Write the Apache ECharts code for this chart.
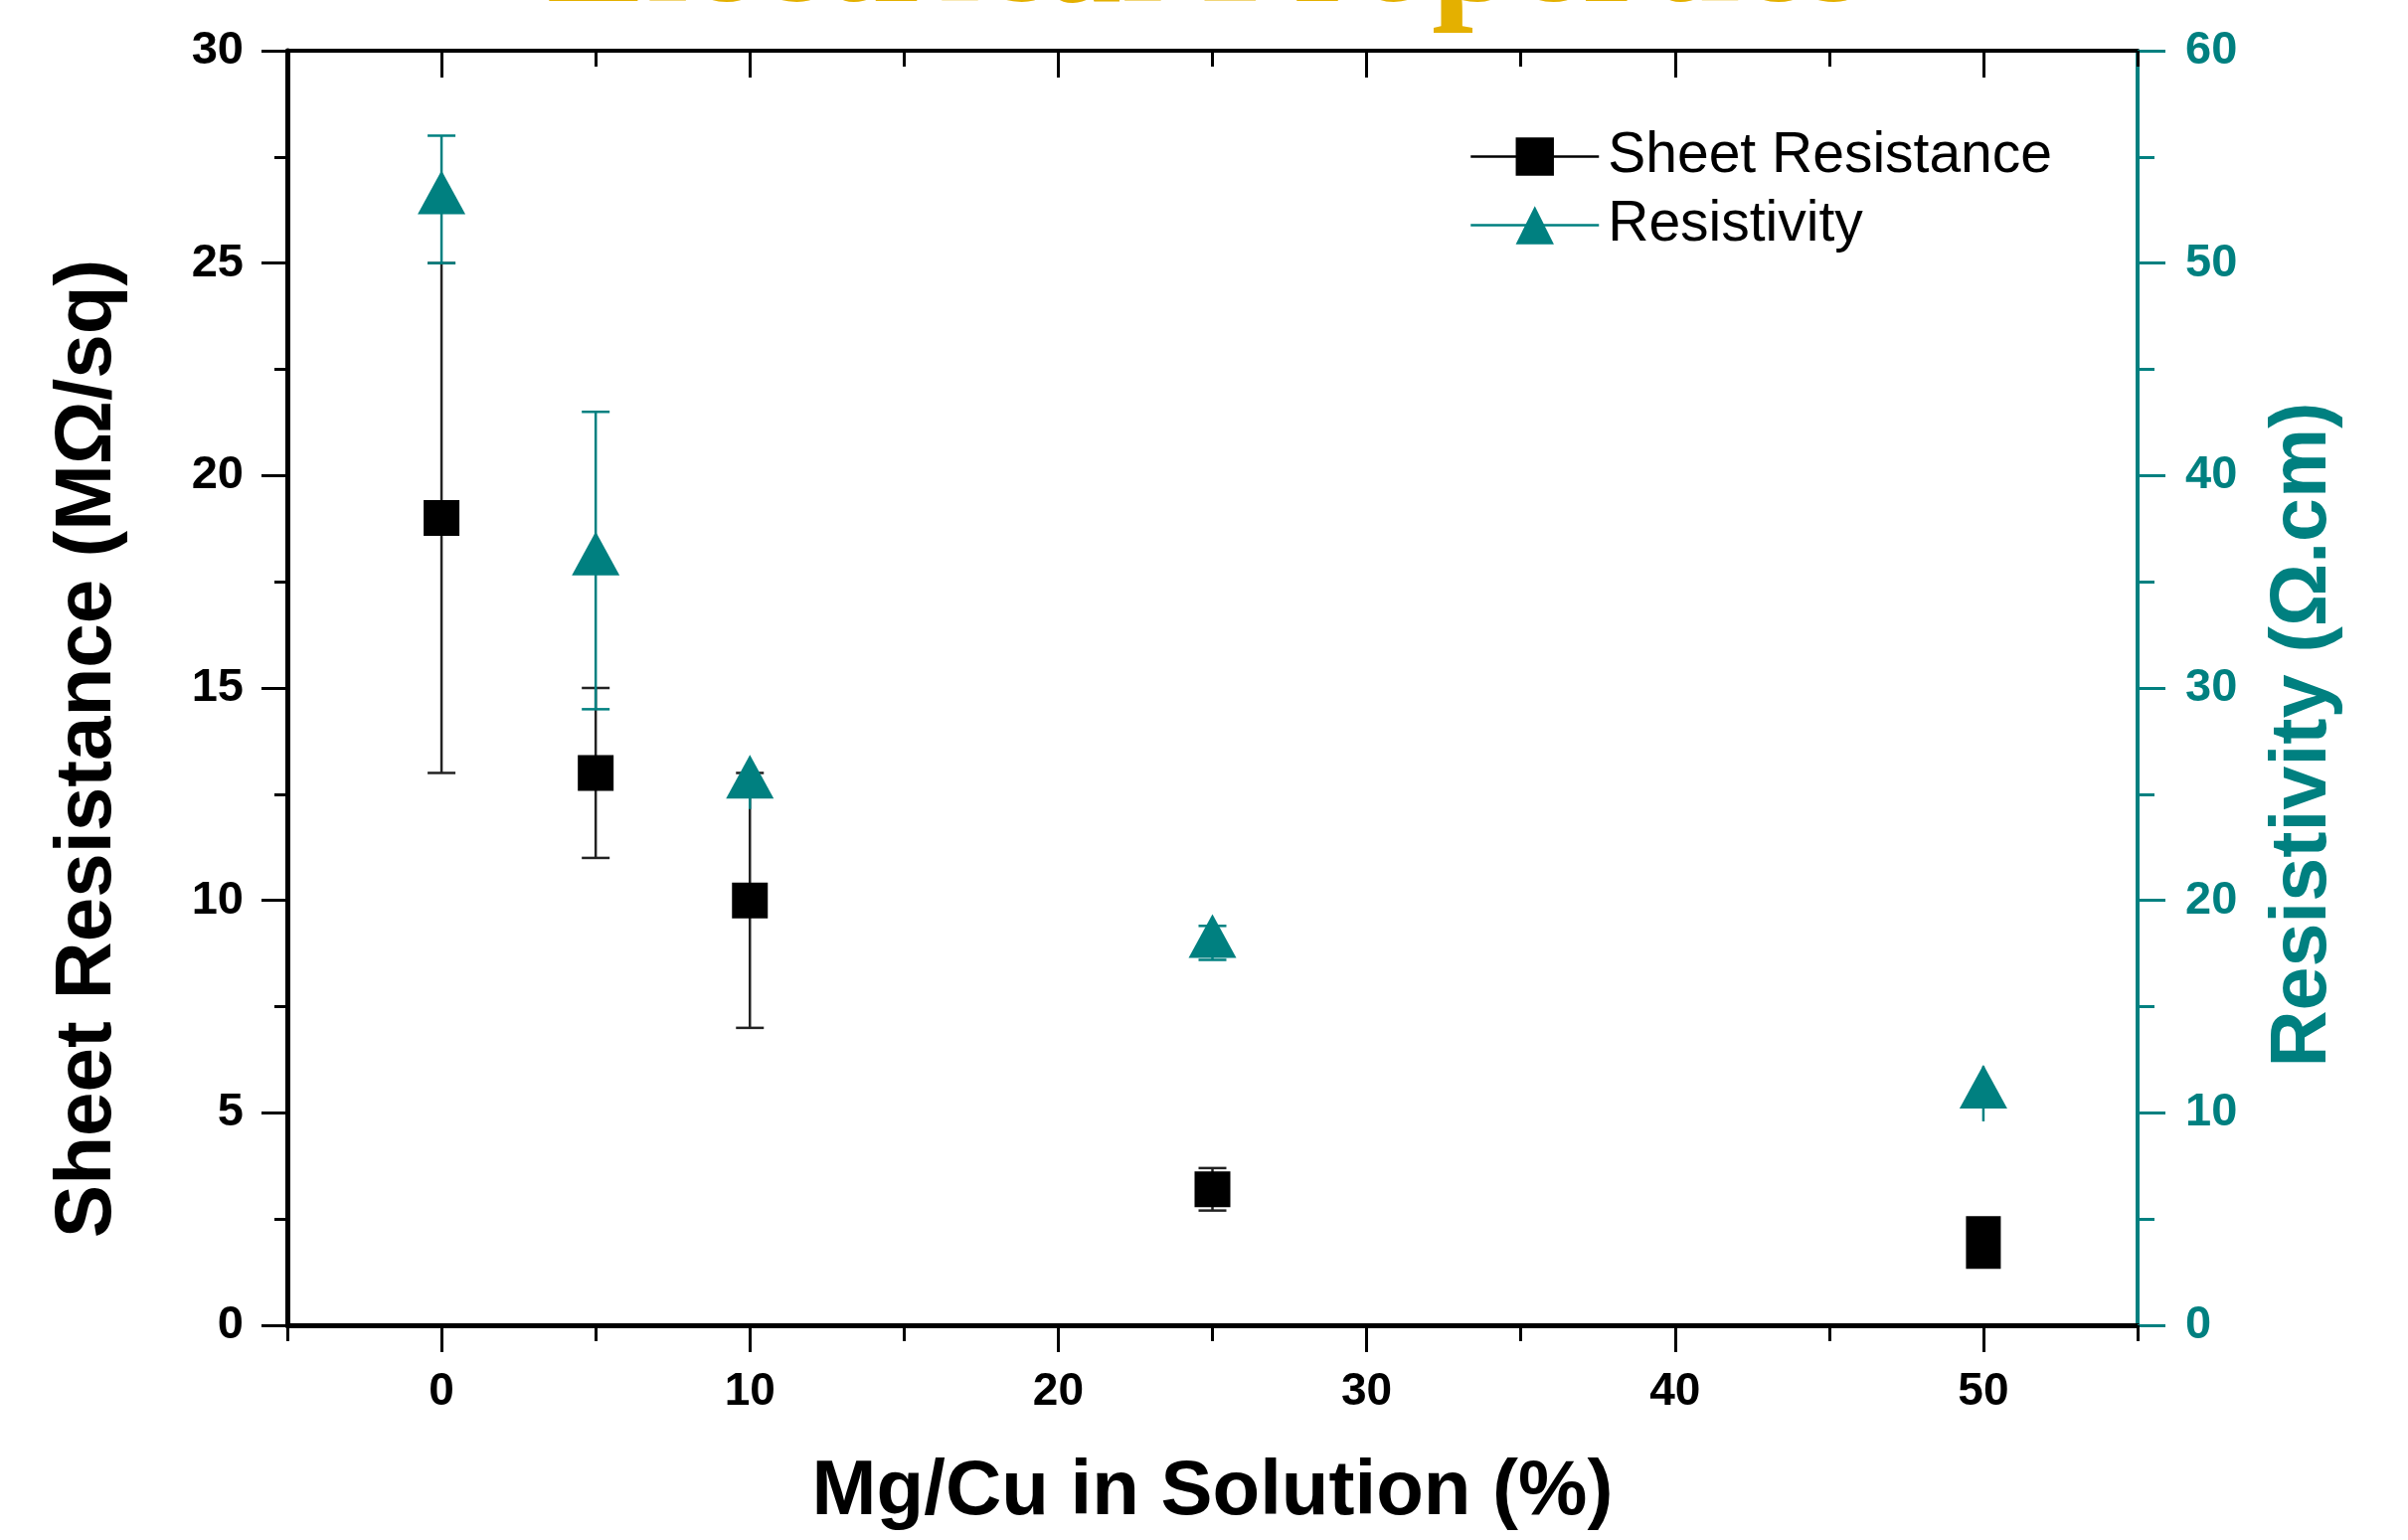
<!DOCTYPE html>
<html><head><meta charset="utf-8">
<script src="https://cdn.jsdelivr.net/npm/echarts@6/dist/echarts.min.js"></script>
<style>html,body{margin:0;padding:0;background:#fff}#c{width:2422px;height:1549px}</style>
</head><body><div id="c"></div>
<script>
const titleText = 'Electrical Properties';
const xName = 'Mg/Cu in Solution (%)';
const yLeftName = 'Sheet Resistance (MΩ/sq)';
const yRightName = 'Resistivity (Ω.cm)';
const seriesNames = ['Sheet Resistance', 'Resistivity'];

const xValues = [0, 5, 10, 25, 50];
const sheetResistance = [19, 13, 10, 3.2, 1.95];
const sheetError = [6, 2, 3, 0.5, 0];
const resistivity = [53, 36, 25.5, 18, 10.9];
const resistivityError = [3, 7, 1.2, 0.8, 1.3];
const resistivityCap = [true, true, false, true, false];

const xMajorTicks = [0, 10, 20, 30, 40, 50];
const xMinorTicks = [-5, 5, 15, 25, 35, 45, 55];

const TEAL = '#008080';
const FONT = 'Liberation Sans';

function errorBars(color, caps) {
  return function (params, api) {
    const x = api.value(0), lo = api.value(1), hi = api.value(2);
    const a = api.coord([x, lo]), b = api.coord([x, hi]);
    const style = { stroke: color, lineWidth: 2.5 };
    const half = 14;
    const kids = [{ type: 'line', shape: { x1: a[0], y1: a[1], x2: b[0], y2: b[1] }, style }];
    if (!caps || caps[params.dataIndex]) {
      kids.push({ type: 'line', shape: { x1: a[0] - half, y1: a[1], x2: a[0] + half, y2: a[1] }, style });
      kids.push({ type: 'line', shape: { x1: b[0] - half, y1: b[1], x2: b[0] + half, y2: b[1] }, style });
    }
    return { type: 'group', children: kids };
  };
}

function baseX(pos, ticks, len, showLine, lineW) {
  return {
    type: 'value', position: pos, min: -5, max: 55,
    axisLine: { show: showLine, onZero: false, lineStyle: { color: '#000', width: lineW } },
    axisTick: { show: true, customValues: ticks, length: len, inside: pos === 'top', lineStyle: { color: '#000', width: 3 } },
    axisLabel: { show: false },
    splitLine: { show: false }
  };
}

const chart = echarts.init(document.getElementById('c'), null, { renderer: 'canvas' });
const xMain = baseX('bottom', xMajorTicks, 27, true, 5);
xMain.axisLabel = { show: true, customValues: xMajorTicks, margin: 44, fontSize: 46, fontWeight: 'bold', fontFamily: FONT, color: '#000' };
xMain.name = xName;
xMain.nameLocation = 'middle';
xMain.nameGap = 129;
xMain.nameTextStyle = { fontSize: 78, fontWeight: 'bold', fontFamily: FONT, color: '#000' };

chart.setOption({
  animation: false,
  backgroundColor: '#fff',
  grid: { left: 289, right: 272, top: 51, bottom: 216, containLabel: false },
  graphic: [{
    type: 'text', x: 1213, y: -38, z: 100,
    style: { text: titleText, fontSize: 151, fontWeight: 'bold', fontFamily: 'Liberation Serif', fill: '#E4B000', align: 'center', verticalAlign: 'middle' }
  }],
  legend: {
    orient: 'vertical', left: 1473, top: 124, itemWidth: 129, itemHeight: 48, itemGap: 12,
    data: seriesNames,
    textStyle: { fontSize: 57, fontFamily: FONT, color: '#000', padding: [0, 0, 0, 4] },
    lineStyle: { opacity: 1, width: 2.5 }
  },
  xAxis: [
    xMain,
    baseX('bottom', xMinorTicks, 16, false, 5),
    baseX('top', xMajorTicks, 27, true, 4),
    baseX('top', xMinorTicks, 16, false, 4)
  ],
  yAxis: [{
    type: 'value', position: 'left', min: 0, max: 30, interval: 5,
    axisLine: { show: true, onZero: false, lineStyle: { color: '#000', width: 5 } },
    axisTick: { show: true, length: 26, lineStyle: { color: '#000', width: 3 } },
    minorTick: { show: true, splitNumber: 2, length: 13, lineStyle: { color: '#000', width: 3 } },
    axisLabel: { margin: 44, fontSize: 47, fontWeight: 'bold', fontFamily: FONT, color: '#000' },
    splitLine: { show: false },
    name: yLeftName, nameLocation: 'middle', nameRotate: 90, nameGap: 160,
    nameTextStyle: { fontSize: 80, fontWeight: 'bold', fontFamily: FONT, color: '#000', padding: [0, 122, 0, 0] }
  }, {
    type: 'value', position: 'right', min: 0, max: 60, interval: 10,
    axisLine: { show: true, onZero: false, lineStyle: { color: TEAL, width: 4 } },
    axisTick: { show: true, length: 28, lineStyle: { color: TEAL, width: 3 } },
    minorTick: { show: true, splitNumber: 2, length: 17, lineStyle: { color: TEAL, width: 3 } },
    axisLabel: { margin: 48, fontSize: 47, fontWeight: 'bold', fontFamily: FONT, color: TEAL },
    splitLine: { show: false },
    name: yRightName, nameLocation: 'middle', nameRotate: 90, nameGap: 128,
    nameTextStyle: { fontSize: 79, fontWeight: 'bold', fontFamily: FONT, color: TEAL, padding: [0, 94, 0, 0] }
  }],
  series: [{
    type: 'custom', name: 'sheetErr', xAxisIndex: 0, yAxisIndex: 0, z: 2, silent: true,
    renderItem: errorBars('#222', null),
    data: xValues.map((x, i) => [x, sheetResistance[i] - sheetError[i], sheetResistance[i] + sheetError[i]])
  }, {
    type: 'line', name: seriesNames[0], xAxisIndex: 0, yAxisIndex: 0, z: 3,
    symbol: 'rect',
    symbolSize: (v, p) => (p.dataIndex === 4 ? [35, 53] : 36),
    itemStyle: { color: '#000' },
    lineStyle: { color: '#000', opacity: 0, width: 2.5 },
    data: xValues.map((x, i) => [x, sheetResistance[i]])
  }, {
    type: 'custom', name: 'resErr', xAxisIndex: 0, yAxisIndex: 1, z: 4, silent: true,
    renderItem: errorBars(TEAL, resistivityCap),
    data: xValues.map((x, i) => [x, resistivity[i] - resistivityError[i], resistivity[i] + resistivityError[i]])
  }, {
    type: 'line', name: seriesNames[1], xAxisIndex: 0, yAxisIndex: 1, z: 5,
    symbol: 'triangle', symbolSize: [48, 44], symbolOffset: [0, -7],
    itemStyle: { color: TEAL },
    lineStyle: { color: TEAL, opacity: 0, width: 2.5 },
    data: xValues.map((x, i) => [x, resistivity[i]])
  }]
});
</script></body></html>
